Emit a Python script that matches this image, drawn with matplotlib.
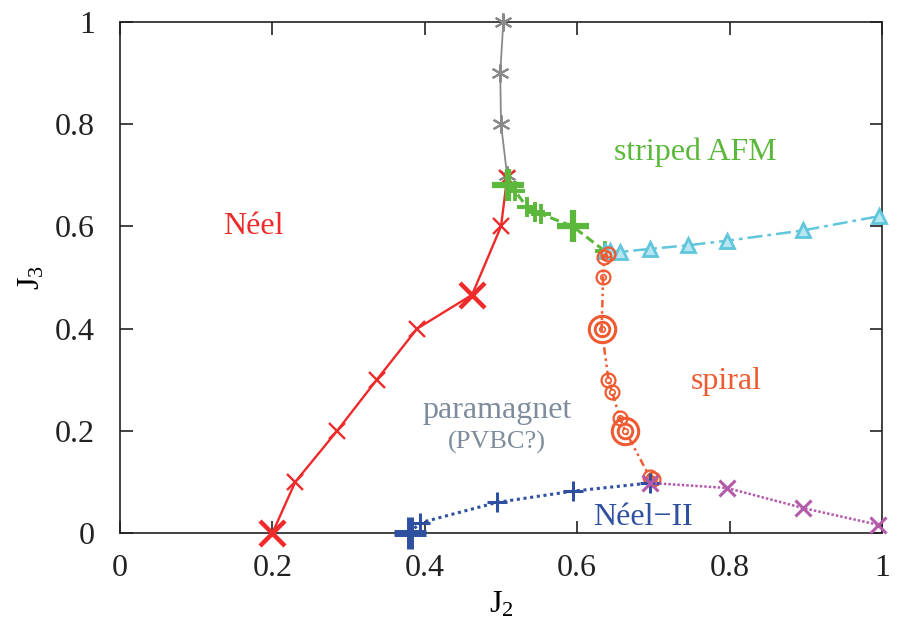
import numpy as np
import matplotlib.pyplot as plt

plt.rcParams['font.family'] = ['Liberation Serif', 'DejaVu Serif']
plt.rcParams['mathtext.fontset'] = 'custom'
plt.rcParams['mathtext.rm'] = 'Liberation Serif'
plt.rcParams['mathtext.it'] = 'Liberation Serif'

# phase boundaries (J2, J3)
neel_x = [0.2, 0.23, 0.285, 0.337, 0.39, 0.462, 0.5, 0.508]
neel_y = [0.0, 0.1, 0.2, 0.3, 0.4, 0.466, 0.6, 0.695]
neel_big = [0, 5]

grey_x = [0.508, 0.500, 0.499, 0.503]
grey_y = [0.700, 0.800, 0.900, 1.000]

striped_x = [0.509, 0.518, 0.534, 0.545, 0.553, 0.594, 0.636]
striped_y = [0.681, 0.670, 0.638, 0.628, 0.624, 0.600, 0.552]
striped_big = [0, 5]

cyan_x = [0.636, 0.643, 0.656, 0.696, 0.745, 0.797, 0.896, 0.996]
cyan_y = [0.552, 0.552, 0.550, 0.556, 0.563, 0.572, 0.592, 0.620]

spiral_x = [0.640, 0.635, 0.634, 0.632, 0.641, 0.646, 0.656, 0.663, 0.695, 0.700]
spiral_y = [0.545, 0.540, 0.500, 0.400, 0.300, 0.275, 0.225, 0.200, 0.110, 0.105]
spiral_big = [3, 7]

neel2_x = [0.38, 0.394, 0.495, 0.595, 0.696]
neel2_y = [0.0, 0.02, 0.06, 0.082, 0.098]
neel2_big = [0]

mag_x = [0.696, 0.797, 0.896, 0.995]
mag_y = [0.098, 0.088, 0.049, 0.016]

red = '#ee2a2a'
grey = '#8a8a8a'
green = '#5cb83c'
cyan = '#5fc6dc'
orange = '#f05a30'
blue = '#2f4fa0'
magenta = '#b35aab'
para = '#7f8c9c'

fig = plt.figure(figsize=(8.99, 6.41), dpi=100)
ax = fig.add_axes([0.1335, 0.1685, 0.8476, 0.7972])

kw = dict(clip_on=False)

# grey line
ax.plot(grey_x, grey_y, color=grey, lw=1.3, marker=(6, 2, 0), ms=13, mew=1.5, **kw)

# Neel line
ax.plot(neel_x, neel_y, color=red, lw=1.7, marker='x', ms=11, mew=1.7, **kw)
ax.plot([neel_x[i] for i in neel_big], [neel_y[i] for i in neel_big],
        ls='none', color=red, marker='x', ms=18, mew=3.2, **kw)

# striped line
ax.plot(striped_x, striped_y, color=green, lw=2.2, ls=(0, (3, 1.5)),
        marker='+', ms=14, mew=2.8, **kw)
ax.plot([striped_x[i] for i in striped_big], [striped_y[i] for i in striped_big],
        ls='none', color=green, marker='+', ms=23, mew=4.5, **kw)

# cyan line
ax.plot(cyan_x, cyan_y, color=cyan, lw=1.8, ls=(0, (6, 2, 1.5, 2)),
        marker='^', ms=10, mfc='#b8e6f0', mew=2, **kw)

# spiral line
ax.plot(spiral_x, spiral_y, color=orange, lw=1.8, ls=(0, (3, 1.5, 1, 1.5, 1, 1.5)),
        marker='o', ms=10, mfc='none', mew=1.6, **kw)
ax.plot(spiral_x, spiral_y, ls='none', color=orange, marker='o', ms=4,
        mfc='none', mew=1.2, **kw)
bx = [spiral_x[i] for i in spiral_big]
by = [spiral_y[i] for i in spiral_big]
ax.plot(bx, by, ls='none', color=orange, marker='o', ms=19, mfc='none', mew=2.2, **kw)
ax.plot(bx, by, ls='none', color=orange, marker='o', ms=11, mfc='none', mew=1.6, **kw)

# Neel-II line
ax.plot(neel2_x, neel2_y, color=blue, lw=2.2, ls=(0, (1, 1.2)),
        marker='+', ms=14, mew=2.2, **kw)
ax.plot([neel2_x[i] for i in neel2_big], [neel2_y[i] for i in neel2_big],
        ls='none', color=blue, marker='+', ms=23, mew=5, **kw)

# magenta line
ax.plot(mag_x, mag_y, color=magenta, lw=1.8, ls=(0, (1, 0.8)),
        marker='x', ms=11, mew=2.2, **kw)

# phase labels
fs = 23
ax.text(0.175, 0.6, 'Néel', color=red, fontsize=fs, ha='center', va='center')
ax.text(0.755, 0.745, 'striped AFM', color=green, fontsize=fs, ha='center', va='center')
ax.text(0.795, 0.296, 'spiral', color=orange, fontsize=fs, ha='center', va='center')
ax.text(0.495, 0.24, 'paramagnet', color=para, fontsize=fs, ha='center', va='center')
ax.text(0.495, 0.178, '(PVBC?)', color=para, fontsize=19, ha='center', va='center')
ax.text(0.686, 0.031, 'Néel−II', color=blue, fontsize=fs, ha='center', va='center')

ax.set_xlim(0, 1)
ax.set_ylim(0, 1)
ax.set_xticks([0, 0.2, 0.4, 0.6, 0.8, 1])
ax.set_yticks([0, 0.2, 0.4, 0.6, 0.8, 1])
ax.set_xticklabels(['0', '0.2', '0.4', '0.6', '0.8', '1'])
ax.set_yticklabels(['0', '0.2', '0.4', '0.6', '0.8', '1'])
ax.tick_params(direction='in', length=9, width=1.2, top=True, right=True,
               labelsize=23, colors='#222222')
ax.tick_params(axis='x', pad=15)
ax.tick_params(axis='y', pad=18)
for s in ax.spines.values():
    s.set_linewidth(1.3)
    s.set_color('#333333')
    s.set_zorder(1)
ax.set_xlabel(r'J$_2$', fontsize=23, labelpad=5)
ax.set_ylabel(r'J$_3$', fontsize=23, labelpad=6)

fig.savefig('out.png', dpi=100)
